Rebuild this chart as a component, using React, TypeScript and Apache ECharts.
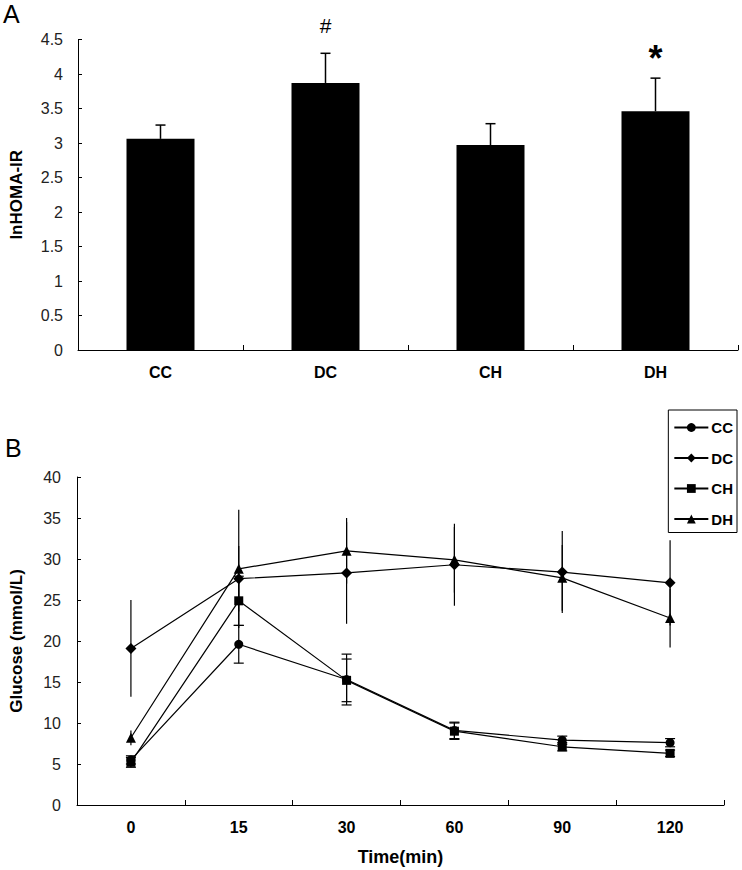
import React, { useEffect, useRef } from 'react';
import * as echarts from 'echarts';

const FONT = '"Liberation Sans Narrow", "Liberation Sans", Arial, sans-serif';
const FONT_W = '"Liberation Sans", Arial, sans-serif';

// Panel A
const barCategories = ['CC', 'DC', 'CH', 'DH'];
const homaMean = [3.06, 3.87, 2.97, 3.46];
const homaSD = [0.2, 0.43, 0.31, 0.48];
const homaMarks = ['', '#', '', '*'];
const homaTicks = { min: 0, max: 4.5, interval: 0.5 };

// Panel B
const timeLabels = ['0', '15', '30', '60', '90', '120'];
const ccMean = [5.5, 19.6, 15.3, 9.1, 7.9, 7.6];
const ccSD = [0.5, 2.3, 3.1, 1.0, 0.5, 0.5];
const dcMean = [19.1, 27.6, 28.3, 29.3, 28.4, 27.1];
const dcSD = [5.9, 4.0, 6.2, 5.0, 5.0, 5.2];
const chMean = [5.2, 24.9, 15.2, 9.0, 7.1, 6.3];
const chSD = [0.6, 3.0, 2.6, 1.0, 0.5, 0.4];
const dhMean = [8.2, 28.8, 31.0, 29.9, 27.7, 22.8];
const dhSD = [0.9, 7.2, 4.0, 4.0, 4.0, 3.6];
const glucoseTicks = { min: 0, max: 40, interval: 5 };

const groups = [
  { name: 'CC', mean: ccMean, sd: ccSD, symbol: 'circle', size: 9, cap: true },
  { name: 'DC', mean: dcMean, sd: dcSD, symbol: 'diamond', size: 11, cap: false },
  { name: 'CH', mean: chMean, sd: chSD, symbol: 'rect', size: 9, cap: true },
  { name: 'DH', mean: dhMean, sd: dhSD, symbol: 'triangle', size: 10, cap: false },
];

function buildOption(): any {
  const axisLine = { lineStyle: { color: '#000', width: 1 } };
  const errSeries = groups.map((g) => ({
    type: 'custom',
    name: g.name + ' SD',
    xAxisIndex: 1,
    yAxisIndex: 1,
    z: 1,
    silent: true,
    data: g.mean.map((m, i) => [i, m - g.sd[i], m + g.sd[i]]),
    renderItem: (params: any, api: any) => {
      const lo = api.coord([api.value(0), api.value(1)]);
      const hi = api.coord([api.value(0), api.value(2)]);
      const children: any[] = [
        { type: 'line', shape: { x1: lo[0], y1: lo[1], x2: hi[0], y2: hi[1] }, style: { stroke: '#000', lineWidth: 1.2 } },
      ];
      if (g.cap) {
        children.push({ type: 'line', shape: { x1: lo[0] - 5, y1: lo[1], x2: lo[0] + 5, y2: lo[1] }, style: { stroke: '#000', lineWidth: 1.2 } });
        children.push({ type: 'line', shape: { x1: hi[0] - 5, y1: hi[1], x2: hi[0] + 5, y2: hi[1] }, style: { stroke: '#000', lineWidth: 1.2 } });
      }
      return { type: 'group', children };
    },
  }));
  const lineSeries = groups.map((g) => ({
    type: 'line',
    name: g.name,
    xAxisIndex: 1,
    yAxisIndex: 1,
    z: 3,
    data: g.mean,
    symbol: g.symbol,
    symbolSize: g.size,
    showAllSymbol: true,
    lineStyle: { color: '#000', width: 1.2 },
    itemStyle: { color: '#000' },
  }));

  return {
    animation: false,
    backgroundColor: '#fff',
    textStyle: { fontFamily: FONT },
    graphic: [
      { type: 'text', left: 3, top: 1, style: { text: 'A', font: '25px ' + FONT_W, fill: '#000' } },
      { type: 'text', left: 5, top: 435, style: { text: 'B', font: '25px ' + FONT_W, fill: '#000' } },
    ],
    legend: {
      data: groups.map((g) => g.name),
      orient: 'vertical',
      right: 5,
      top: 410,
      width: 70,
      backgroundColor: '#fff',
      borderColor: '#000',
      borderWidth: 1,
      borderRadius: 0,
      padding: [10, 4, 6, 5],
      itemGap: 15.5,
      itemWidth: 34,
      itemHeight: 11,
      textStyle: { fontFamily: FONT, fontWeight: 'bold', fontSize: 15, color: '#000', padding: [0, 0, 0, -2] },
    },
    grid: [
      { left: 70, right: 4, top: 39.5, height: 310.5 },
      { left: 70, right: 18, top: 477, height: 328 },
    ],
    xAxis: [
      {
        type: 'category',
        gridIndex: 0,
        data: barCategories,
        axisLine,
        axisTick: { show: true, inside: true, length: 5, lineStyle: { color: '#000' } },
        axisLabel: { color: '#000', fontFamily: FONT, fontWeight: 'bold', fontSize: 16, margin: 14 },
      },
      {
        type: 'category',
        gridIndex: 1,
        data: timeLabels,
        name: 'Time(min)',
        nameLocation: 'middle',
        nameGap: 43,
        nameTextStyle: { color: '#000', fontFamily: FONT, fontWeight: 'bold', fontSize: 18 },
        axisLine,
        axisTick: { show: true, inside: true, length: 5, lineStyle: { color: '#000' } },
        axisLabel: { color: '#000', fontFamily: FONT, fontWeight: 'bold', fontSize: 16, margin: 14 },
      },
    ],
    yAxis: [
      {
        type: 'value',
        gridIndex: 0,
        min: homaTicks.min,
        max: homaTicks.max,
        interval: homaTicks.interval,
        name: 'lnHOMA-IR',
        nameLocation: 'middle',
        nameGap: 53,
        nameTextStyle: { color: '#000', fontFamily: FONT_W, fontWeight: 'bold', fontSize: 17 },
        axisLine: { show: true, lineStyle: { color: '#000', width: 1 } },
        axisTick: { show: true, inside: true, length: 4, lineStyle: { color: '#000' } },
        axisLabel: { color: '#222', fontFamily: FONT, fontSize: 16, margin: 15 },
        splitLine: { show: false },
      },
      {
        type: 'value',
        gridIndex: 1,
        min: glucoseTicks.min,
        max: glucoseTicks.max,
        interval: glucoseTicks.interval,
        name: 'Glucose (mmol/L)',
        nameLocation: 'middle',
        nameGap: 52,
        nameTextStyle: { color: '#000', fontFamily: FONT_W, fontWeight: 'bold', fontSize: 17 },
        axisLine: { show: true, lineStyle: { color: '#000', width: 1 } },
        axisTick: { show: true, inside: true, length: 4, lineStyle: { color: '#000' } },
        axisLabel: { color: '#222', fontFamily: FONT, fontSize: 16, margin: 16 },
        splitLine: { show: false },
      },
    ],
    series: [
      {
        type: 'bar',
        name: 'lnHOMA-IR',
        xAxisIndex: 0,
        yAxisIndex: 0,
        data: homaMean,
        barWidth: 68,
        itemStyle: { color: '#000' },
        z: 2,
      },
      {
        type: 'custom',
        name: 'lnHOMA-IR SD',
        xAxisIndex: 0,
        yAxisIndex: 0,
        z: 1,
        silent: true,
        data: homaMean.map((m, i) => [i, m, m + homaSD[i]]),
        renderItem: (params: any, api: any) => {
          const base = api.coord([api.value(0), api.value(1)]);
          const top = api.coord([api.value(0), api.value(2)]);
          const mark = homaMarks[params.dataIndex];
          const children: any[] = [
            { type: 'line', shape: { x1: base[0], y1: base[1], x2: top[0], y2: top[1] }, style: { stroke: '#000', lineWidth: 1.5 } },
            { type: 'line', shape: { x1: top[0] - 5, y1: top[1], x2: top[0] + 5, y2: top[1] }, style: { stroke: '#000', lineWidth: 1.5 } },
          ];
          if (mark === '#') {
            children.push({ type: 'text', x: top[0], y: top[1] - 28, style: { text: mark, font: '21px ' + FONT_W, fill: '#000', align: 'center', verticalAlign: 'middle' } });
          } else if (mark) {
            children.push({ type: 'text', x: top[0], y: top[1] - 20, style: { text: mark, font: 'bold 36px ' + FONT_W, fill: '#000', align: 'center', verticalAlign: 'middle' } });
          }
          return { type: 'group', children };
        },
      },
      ...errSeries,
      ...lineSeries,
    ],
  };
}

export default function App() {
  const ref = useRef<HTMLDivElement>(null);
  useEffect(() => {
    const chart = echarts.init(ref.current as HTMLDivElement, null, { renderer: 'svg' });
    chart.setOption(buildOption());
    return () => chart.dispose();
  }, []);
  return (
    <div
      ref={ref}
      style={{ position: 'absolute', left: 0, top: 0, width: 742, height: 870, background: '#fff' }}
    />
  );
}
